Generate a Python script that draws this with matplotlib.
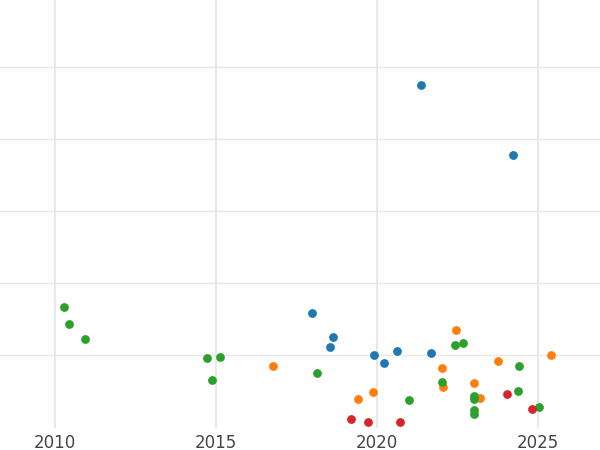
import matplotlib
matplotlib.use("Agg")
import matplotlib.pyplot as plt

blue_x = [2021.37, 2024.22, 2017.98, 2018.63, 2018.54, 2019.91, 2020.22, 2020.62, 2021.68]
blue_y = [4.75, 3.78, 1.58, 1.25, 1.11, 1.00, 0.89, 1.06, 1.03]
orange_x = [2022.45, 2016.77, 2019.41, 2019.88, 2022.02, 2022.05, 2023.01, 2023.2, 2023.76, 2025.4]
orange_y = [1.35, 0.85, 0.39, 0.49, 0.82, 0.56, 0.61, 0.40, 0.92, 1.00]
green_x = [2010.28, 2010.43, 2010.93, 2014.72, 2015.12, 2014.88, 2018.14, 2020.99, 2022.02,
           2022.42, 2022.67, 2023.01, 2023.01, 2023.01, 2023.01, 2024.41, 2024.38, 2025.03]
green_y = [1.67, 1.43, 1.22, 0.96, 0.97, 0.65, 0.75, 0.375, 0.625,
           1.14, 1.17, 0.44, 0.39, 0.24, 0.18, 0.85, 0.50, 0.28]
red_x = [2019.19, 2019.72, 2020.71, 2024.04, 2024.81]
red_y = [0.11, 0.08, 0.07, 0.46, 0.26]

fig = plt.figure(figsize=(6, 4.5), dpi=100)
ax = fig.add_axes([0, 22 / 450, 1, 428 / 450])

for xs, ys, c in [(blue_x, blue_y, "#1f77b4"), (orange_x, orange_y, "#ff7f0e"),
                  (green_x, green_y, "#2ca02c"), (red_x, red_y, "#d62728")]:
    ax.scatter(xs, ys, s=40, color=c, zorder=3, linewidths=0)

ax.set_xlim(2008.29, 2026.93)
ax.set_ylim(-0.01, 5.93)
ax.set_xticks([2010, 2015, 2020, 2025])
ax.set_yticks([1, 2, 3, 4, 5])
ax.set_yticklabels([])
ax.tick_params(length=0, labelsize=12, labelcolor="#444444", pad=4)
ax.tick_params(axis="y", length=0)
ax.grid(True, color="#e8e8e8", linewidth=1)
ax.grid(True, axis="x", color="#e8e8e8", linewidth=1.5)
for s in ax.spines.values():
    s.set_visible(False)

fig.savefig("out.png")
